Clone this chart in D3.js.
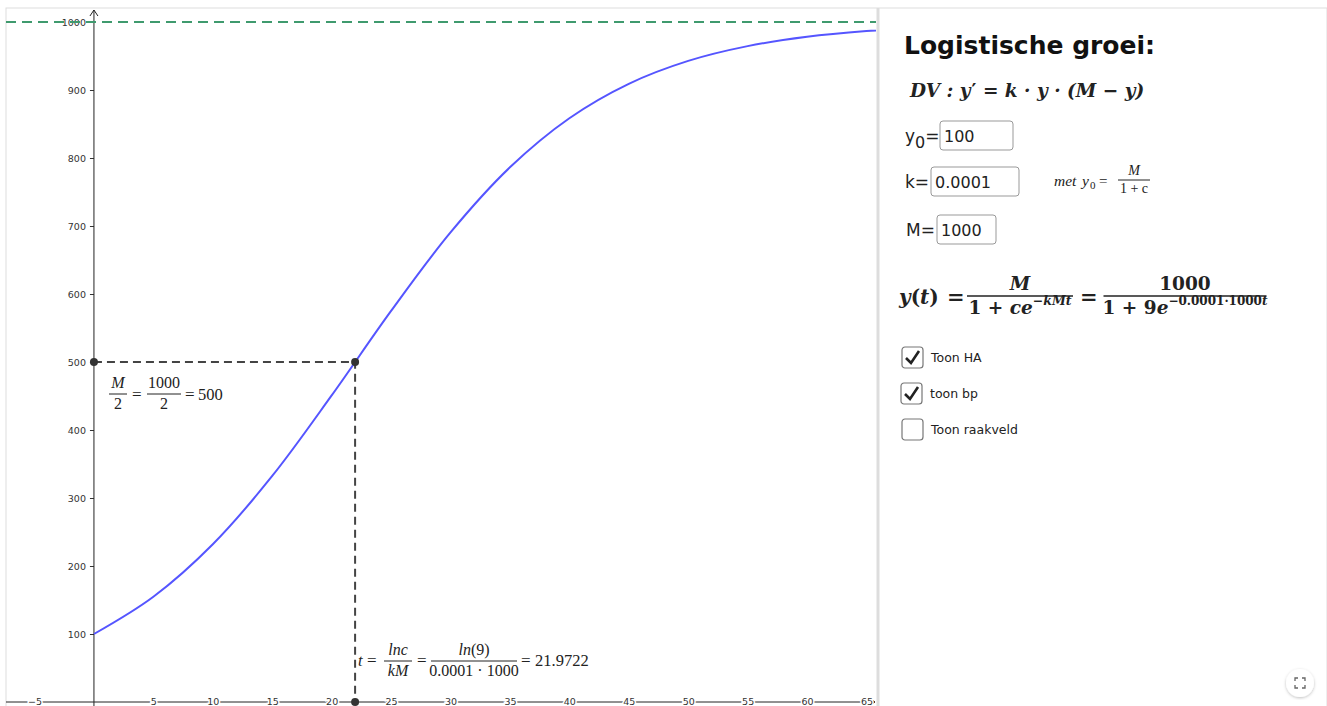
<!DOCTYPE html>
<html>
<head>
<meta charset="utf-8">
<script src="https://cdn.jsdelivr.net/npm/d3@7"></script>
<style>
  body { margin: 0; background: #fff; }
  svg { display: block; }
  .math { font-family: "Liberation Serif", "DejaVu Serif", serif; font-style: italic; fill: #222; }
  .num { font-family: "Liberation Serif", "DejaVu Serif", serif; fill: #222; }
  .bold .math, .bold .num, .bold.math { font-family: "DejaVu Serif", serif; }
  .ui { font-family: "DejaVu Sans", Verdana, sans-serif; fill: #222; }
</style>
</head>
<body>
<svg id="chart" width="1327" height="706"></svg>
<script>
// waarden
const tWaarden = [0, 5, 10, 15, 20, 25, 30, 35, 40, 45, 50, 55, 60, 65, 70];
const yWaarden = [100, 154.8, 232.0, 332.4, 450.8, 575.1, 690.6, 786.3, 858.5, 909.1, 942.8, 964.5, 978.2, 986.6, 991.9];
const xTicks = [-5, 5, 10, 15, 20, 25, 30, 35, 40, 45, 50, 55, 60, 65];
const yTicks = [100, 200, 300, 400, 500, 600, 700, 800, 900, 1000];
const grensM = 1000;     // horizontale asymptoot
const halfM = 500;       // buigpunt y
const tBuig = 21.9722;   // buigpunt t

const svg = d3.select("#chart");

const x = d3.scaleLinear().domain([-7.4, 65.8]).range([6, 876]);
const y = d3.scaleLinear().domain([0, 1000]).range([702, 22]);

// randen
svg.append("rect").attr("x", 6).attr("y", 8).attr("width", 1321).attr("height", 700)
  .attr("fill", "none").attr("stroke", "#ddd");
svg.append("line").attr("x1", 878).attr("x2", 878).attr("y1", 8).attr("y2", 706)
  .attr("stroke", "#ddd").attr("stroke-width", 3);

svg.append("clipPath").attr("id", "clip").append("rect")
  .attr("x", 6).attr("y", 9).attr("width", 870).attr("height", 697);

const g = svg.append("g").attr("clip-path", "url(#clip)");

// y-as
const yAxis = g.append("g").attr("transform", `translate(${x(0)},0)`)
  .call(d3.axisLeft(y).tickValues(yTicks).tickSize(4).tickPadding(4).tickFormat(d3.format("d")));
yAxis.select(".domain").remove();
yAxis.selectAll("line").attr("stroke", "#333");
yAxis.selectAll("text").attr("font-family", "DejaVu Sans, sans-serif").attr("font-size", 9.5).attr("fill", "#333");
g.append("line").attr("x1", x(0)).attr("x2", x(0)).attr("y1", 10).attr("y2", 706)
  .attr("stroke", "#222").attr("stroke-width", 1);
g.append("path").attr("d", `M${x(0) - 4},16 L${x(0)},10 L${x(0) + 4},16`)
  .attr("fill", "none").attr("stroke", "#222");

// x-as
g.append("line").attr("x1", 6).attr("x2", 875).attr("y1", y(0)).attr("y2", y(0))
  .attr("stroke", "#222").attr("stroke-width", 1);
g.append("path").attr("d", `M869,${y(0) - 4} L875,${y(0)} L869,${y(0) + 4}`)
  .attr("fill", "none").attr("stroke", "#222");
const xAxis = g.append("g").attr("transform", `translate(0,${y(0)})`)
  .call(d3.axisBottom(x).tickValues(xTicks).tickSize(0).tickFormat(d => d < 0 ? "−" + (-d) : d));
xAxis.select(".domain").remove();
xAxis.selectAll("text")
  .attr("y", 0).attr("dy", "0.32em")
  .attr("font-family", "DejaVu Sans, sans-serif").attr("font-size", 9.5).attr("fill", "#333")
  .attr("stroke", "#fff").attr("stroke-width", 3).attr("paint-order", "stroke");

// asymptoot
g.append("line").attr("x1", 6).attr("x2", 876).attr("y1", y(grensM)).attr("y2", y(grensM))
  .attr("stroke", "#3f9a6e").attr("stroke-width", 2).attr("stroke-dasharray", "10,6");

// hulplijnen buigpunt
g.append("path")
  .attr("d", `M${x(0)},${y(halfM)} H${x(tBuig)} V${y(0)}`)
  .attr("fill", "none").attr("stroke", "#444").attr("stroke-width", 2).attr("stroke-dasharray", "8,5");

// logistische kromme
const lijn = d3.line().x((d, i) => x(tWaarden[i])).y(d => y(d)).curve(d3.curveCatmullRom);
g.append("path").datum(yWaarden).attr("d", lijn)
  .attr("fill", "none").attr("stroke", "#5555ff").attr("stroke-width", 2);

// punten
const punten = [[0, halfM], [tBuig, halfM], [tBuig, 0]];
g.selectAll("circle.pt").data(punten).enter().append("circle")
  .attr("cx", d => x(d[0])).attr("cy", d => y(d[1])).attr("r", 4).attr("fill", "#333");

// breuk helper
function breuk(parent, cx, yBar, teller, noemer, size, cls, breed) {
  const tt = parent.append("text").attr("class", cls).attr("x", cx).attr("y", yBar - size * 0.35)
    .attr("text-anchor", "middle").attr("font-size", size);
  teller(tt);
  const nt = parent.append("text").attr("class", cls).attr("x", cx).attr("y", yBar + size * 0.95)
    .attr("text-anchor", "middle").attr("font-size", size);
  noemer(nt);
  parent.append("line").attr("x1", cx - breed / 2).attr("x2", cx + breed / 2)
    .attr("y1", yBar).attr("y2", yBar).attr("stroke", "#222").attr("stroke-width", 1);
}
const tx = s => t => t.text(s);
function tekst(parent, cls, xp, yp, size, s) {
  return parent.append("text").attr("class", cls).attr("x", xp).attr("y", yp).attr("font-size", size).text(s);
}

// M/2 = 1000/2 = 500
breuk(svg, 118, 394, tx("M"), t => t.attr("class", "num").text("2"), 16, "math", 18);
tekst(svg, "num", 132, 400, 17, "=");
breuk(svg, 164, 394, t => t.attr("class", "num").text("1000"), t => t.attr("class", "num").text("2"), 16, "num", 34);
tekst(svg, "num", 185, 400, 17, "=");
tekst(svg, "num", 198, 400, 16.5, "500");

// t = lnc/kM = ln(9)/(0.0001·1000) = 21.9722
tekst(svg, "math", 358, 666, 16.5, "t");
tekst(svg, "num", 367, 666, 17, "=");
breuk(svg, 398, 661, tx("lnc"), tx("kM"), 16, "math", 28);
tekst(svg, "num", 417, 666, 17, "=");
breuk(svg, 474, 661, t => { t.append("tspan").text("ln"); t.append("tspan").attr("font-style", "normal").text("(9)"); },
  t => t.attr("class", "num").text("0.0001 · 1000"), 16, "math", 86);
tekst(svg, "num", 521, 666, 17, "=");
tekst(svg, "num", 535, 666, 16.5, "21.9722");

// ---- rechterpaneel ----
svg.append("text").attr("x", 904).attr("y", 54)
  .attr("font-family", "DejaVu Sans, sans-serif").attr("font-weight", "bold").attr("font-size", 25)
  .attr("fill", "#111").text("Logistische groei:");

const dv = tekst(svg, "bold math", 910, 97, 18.5, "").attr("font-weight", "bold");
dv.append("tspan").text("DV : y");
dv.append("tspan").attr("font-style", "normal").attr("dx", 1).text("′");
dv.append("tspan").text(" = k · y · (M − y)");

function invoer(lx, ly, label, bx, bw, waarde, sub) {
  const t = svg.append("text").attr("class", "ui").attr("x", lx).attr("y", ly).attr("font-size", 17).text(label);
  if (sub) {
    t.append("tspan").attr("dy", 6).attr("font-size", 16).text(sub);
    t.append("tspan").attr("dy", -6).text("=");
  }
  svg.append("rect").attr("x", bx).attr("y", ly - 21).attr("width", bw).attr("height", 29).attr("rx", 3)
    .attr("fill", "#fff").attr("stroke", "#999");
  svg.append("text").attr("class", "ui").attr("x", bx + 4).attr("y", ly).attr("font-size", 16).text(waarde);
}
invoer(905, 142, "y", 940, 73, "100", "0");
invoer(905, 188, "k=", 931, 88, "0.0001");
invoer(906, 236, "M=", 937, 59, "1000");

// met y0 = M/(1+c)
tekst(svg, "math", 1054, 186, 15.5, "met");
tekst(svg, "math", 1082, 186, 15.5, "y");
tekst(svg, "num", 1090, 189, 11, "0");
tekst(svg, "num", 1099, 186, 15, "=");
breuk(svg, 1134, 180, tx("M"), t => t.attr("class", "num").text("1 + c"), 14, "math", 32);

// y(t) formule
const big = svg.append("g").attr("class", "bold").attr("font-weight", "bold");
const yt = tekst(big, "num", 899, 304, 20, "");
yt.append("tspan").attr("font-style", "italic").text("y");
yt.append("tspan").text("(");
yt.append("tspan").attr("font-style", "italic").text("t");
yt.append("tspan").text(")");
tekst(big, "num", 947, 304, 21, "=");
breuk(big, 1020, 296, tx("M"), t => {
  t.append("tspan").attr("font-style", "normal").text("1 + ");
  t.append("tspan").text("ce");
  t.append("tspan").attr("font-size", 12.5).attr("dy", -9).text("−kMt");
}, 18.5, "math", 106);
tekst(big, "num", 1080, 304, 21, "=");
breuk(big, 1185, 296, t => t.attr("class", "num").text("1000"), t => {
  t.attr("class", "num");
  t.append("tspan").text("1 + 9");
  t.append("tspan").attr("font-style", "italic").text("e");
  t.append("tspan").attr("font-size", 12).attr("dy", -9).text("−0.0001·1000");
  t.append("tspan").attr("font-size", 12).attr("font-style", "italic").text("t");
}, 18.5, "num", 163);
big.selectAll("line").attr("stroke-width", 1.5);

// selectievakjes
const vakjes = [
  { label: "Toon HA", x: 902, y: 347, aan: true },
  { label: "toon bp", x: 901, y: 383, aan: true },
  { label: "Toon raakveld", x: 902, y: 419, aan: false }
];
const vk = svg.selectAll("g.vak").data(vakjes).enter().append("g")
  .attr("transform", d => `translate(${d.x},${d.y})`);
vk.append("rect").attr("width", 21).attr("height", 21).attr("rx", 3)
  .attr("fill", "#fff").attr("stroke", "#777").attr("stroke-width", 1.2);
vk.filter(d => d.aan).append("path").attr("d", "M4,11 L9,16 L17,4")
  .attr("fill", "none").attr("stroke", "#222").attr("stroke-width", 2.6);
vk.append("text").attr("class", "ui").attr("x", 29).attr("y", 15).attr("font-size", 12.5)
  .attr("fill", "#333").text(d => d.label);

// volledig scherm knop
svg.append("defs").append("filter").attr("id", "sch").append("feDropShadow")
  .attr("dx", 0).attr("dy", 1).attr("stdDeviation", 1.5).attr("flood-opacity", 0.25);
svg.append("circle").attr("cx", 1300).attr("cy", 683).attr("r", 14).attr("fill", "#fff").attr("filter", "url(#sch)");
svg.append("path")
  .attr("d", "M1295,681 v-3 h3 M1302,678 h3 v3 M1305,685 v3 h-3 M1298,688 h-3 v-3")
  .attr("fill", "none").attr("stroke", "#666").attr("stroke-width", 1.3);
</script>
</body>
</html>
